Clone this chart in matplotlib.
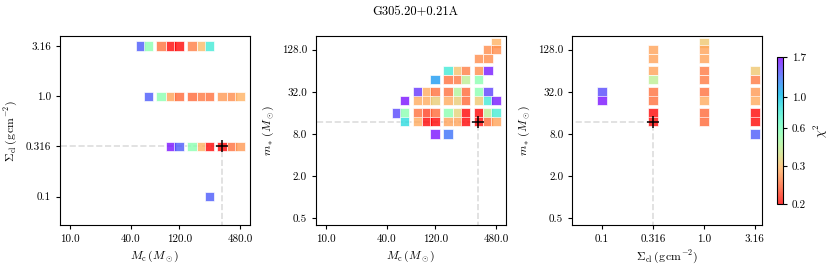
import matplotlib
matplotlib.use('Agg')
import matplotlib.pyplot as plt
from matplotlib.colors import PowerNorm

plt.rcParams['font.family'] = ['cmr10', 'DejaVu Serif']
plt.rcParams['mathtext.fontset'] = 'cm'
plt.rcParams['axes.unicode_minus'] = False

# best fit model
best_mc = 320
best_sigma = 0.316
best_mstar = 12

# panel 1: Mc vs Sigma_cl
p1_mc = [50, 60, 80, 100, 120, 160, 200, 240,
         60, 80, 100, 120, 160, 200, 240, 320, 400, 480,
         100, 120, 160, 200, 240, 320, 400, 480,
         240]
p1_sigma = [3.16] * 8 + [1.0] * 10 + [0.316] * 8 + [0.1]
p1_chi2 = [1.38, 0.55, 0.23, 0.2, 0.2, 0.24, 0.30, 0.8,
           1.38, 0.55, 0.27, 0.225, 0.225, 0.235, 0.23, 0.26, 0.25, 0.29,
           1.65, 1.38, 0.55, 0.29, 0.2, 0.2, 0.23, 0.26,
           1.38]

# panel 2: Mc vs m_star
p2_mc = [480,
         400, 480,
         320, 400,
         160, 200, 240, 320, 400,
         120, 160, 200, 240, 320,
         80, 100, 120, 160, 200, 240, 320, 400,
         60, 80, 100, 120, 160, 200, 240, 320, 400, 480,
         50, 60, 80, 100, 120, 160, 200, 240, 320, 400, 480,
         60, 80, 100, 120, 160, 200, 240, 320, 400, 480,
         120, 160]
p2_mstar = ([160] + [128] * 2 + [96] * 2 + [64] * 5 + [48] * 5 + [32] * 8
            + [24] * 10 + [16] * 11 + [12] * 10 + [8] * 2)
p2_chi2 = [0.29,
           0.25, 0.25,
           0.25, 0.25,
           0.8, 0.31, 0.24, 0.25, 1.62,
           1.15, 0.23, 0.235, 0.42, 0.55,
           1.52, 0.28, 0.23, 0.23, 0.45, 0.225, 0.55, 1.48,
           1.65, 0.28, 0.28, 0.33, 0.28, 0.33, 0.225, 0.32, 0.8, 1.62,
           1.45, 0.55, 0.23, 0.21, 0.225, 0.55, 0.34, 0.2, 0.2, 0.42, 0.78,
           0.88, 0.28, 0.2, 0.2, 0.27, 0.27, 0.2, 0.2, 0.225, 0.27,
           1.65, 1.3]

# panel 3: Sigma_cl vs m_star
p3_sigma = [0.1] * 2 + [0.316] * 8 + [1.0] * 9 + [3.16] * 7
p3_mstar = [32, 24,
            128, 96, 64, 48, 32, 24, 16, 12,
            160, 128, 96, 64, 48, 32, 24, 16, 12,
            64, 48, 32, 24, 16, 12, 8]
p3_chi2 = [1.45, 1.65,
           0.27, 0.27, 0.27, 0.42, 0.23, 0.23, 0.2, 0.2,
           0.32, 0.27, 0.27, 0.235, 0.235, 0.23, 0.28, 0.225, 0.225,
           0.32, 0.235, 0.26, 0.28, 0.2, 0.2, 1.38]

mc_ticks = [10, 40, 120, 480]
mc_labels = ['10.0', '40.0', '120.0', '480.0']
sigma_ticks = [0.1, 0.316, 1.0, 3.16]
sigma_labels = ['0.1', '0.316', '1.0', '3.16']
mstar_ticks = [0.5, 2, 8, 32, 128]
mstar_labels = ['0.5', '2.0', '8.0', '32.0', '128.0']
cbar_ticks = [0.2, 0.3, 0.6, 1.0, 1.7]

norm = PowerNorm(gamma=0.5, vmin=0.2, vmax=1.7)


def draw_panel(ax, x, y, chi2, bx, by):
    """Scatter the models as squares and mark the best one"""
    sc = ax.scatter(x, y, c=chi2, cmap='rainbow_r', norm=norm, marker='s',
                    s=48, alpha=0.78, edgecolors='white', linewidths=0.6)
    ax.set_xscale('log')
    ax.set_yscale('log')
    ax.minorticks_off()
    # dashed guides to the best model
    ax.plot([1e-3, bx], [by, by], ls='--', color='#dddddd', lw=1.2, zorder=0)
    ax.plot([bx, bx], [1e-3, by], ls='--', color='#dddddd', lw=1.2, zorder=0)
    ax.plot(bx, by, marker='+', color='black', ms=9, mew=1.1)
    ax.tick_params(labelsize=8, length=3)
    return sc


fig = plt.figure(figsize=(8.31, 2.71), dpi=100)
ax1 = fig.add_axes([0.0722, 0.1697, 0.2286, 0.6974])
ax2 = fig.add_axes([0.3803, 0.1697, 0.2286, 0.6974])
ax3 = fig.add_axes([0.6887, 0.1697, 0.2286, 0.6974])
cax = fig.add_axes([0.9354, 0.2461, 0.0065, 0.5424])

draw_panel(ax1, p1_mc, p1_sigma, p1_chi2, best_mc, best_sigma)
ax1.set_xlim(8, 600)
ax1.set_ylim(0.052, 4.0)
ax1.set_xticks(mc_ticks, mc_labels)
ax1.set_yticks(sigma_ticks, sigma_labels)
ax1.set_xlabel(r'$M_{\rm c}\,(M_\odot)$', fontsize=8.5)
ax1.set_ylabel(r'$\Sigma_{\rm cl}\,({\rm g\,cm^{-2}})$', fontsize=8.5)

draw_panel(ax2, p2_mc, p2_mstar, p2_chi2, best_mc, best_mstar)
ax2.set_xlim(8, 600)
ax2.set_ylim(0.4, 200)
ax2.set_xticks(mc_ticks, mc_labels)
ax2.set_yticks(mstar_ticks, mstar_labels)
ax2.set_xlabel(r'$M_{\rm c}\,(M_\odot)$', fontsize=8.5)
ax2.set_ylabel(r'$m_*\,(M_\odot)$', fontsize=8.5)

sc = draw_panel(ax3, p3_sigma, p3_mstar, p3_chi2, best_sigma, best_mstar)
ax3.set_xlim(0.051, 3.75)
ax3.set_ylim(0.4, 200)
ax3.set_xticks(sigma_ticks, sigma_labels)
ax3.set_yticks(mstar_ticks, mstar_labels)
ax3.set_xlabel(r'$\Sigma_{\rm cl}\,({\rm g\,cm^{-2}})$', fontsize=8.5)
ax3.set_ylabel(r'$m_*\,(M_\odot)$', fontsize=8.5)

cb = fig.colorbar(sc, cax=cax)
cb.set_ticks(cbar_ticks, labels=['0.2', '0.3', '0.6', '1.0', '1.7'])
cb.ax.minorticks_off()
cb.ax.tick_params(labelsize=8, length=3)
cb.set_label(r'$\chi^2$', fontsize=9)

fig.text(0.5, 0.955, 'G305.20+0.21A', ha='center', va='center', fontsize=9)

fig.savefig('out.png', dpi=100)
